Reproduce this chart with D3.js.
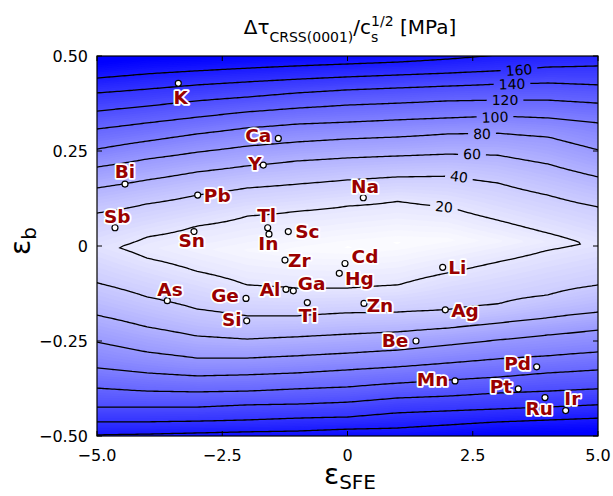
<!DOCTYPE html>
<html><head><meta charset="utf-8">
<script src="https://cdn.jsdelivr.net/npm/d3@7"></script>
<style>body{margin:0;background:#fff} svg{display:block} text{font-family:"DejaVu Sans",sans-serif}</style>
</head><body><svg id="c" width="613" height="496"></svg>
<script>
// ---------- data ----------
const columnsSFE = [-5, -4, -3, -2, -1, 0, 1, 2, 3, 4, 5];
const levels = [20, 40, 60, 80, 100, 120, 140, 160, 180];
// eps_b where each contour level crosses each column (upper branch)
const up20  = [null, 0.024, 0.053, 0.079, 0.092, 0.105, 0.118, 0.103, 0.068, 0.034, null];
const up40  = [0.087, 0.111, 0.134, 0.153, 0.163, 0.174, 0.182, 0.184, 0.166, 0.134, 0.103];
const up60  = [0.153, 0.174, 0.195, 0.211, 0.224, 0.232, 0.237, 0.242, 0.239, 0.216, 0.182];
const up80  = [0.208, 0.229, 0.247, 0.263, 0.274, 0.282, 0.287, 0.295, 0.297, 0.287, 0.253];
const up100 = [0.255, 0.276, 0.295, 0.311, 0.321, 0.326, 0.332, 0.337, 0.342, 0.337, 0.324];
const up120 = [0.308, 0.324, 0.339, 0.353, 0.363, 0.371, 0.376, 0.382, 0.384, 0.384, 0.376];
const up140 = [0.355, 0.368, 0.382, 0.392, 0.403, 0.411, 0.416, 0.421, 0.426, 0.429, 0.424];
const up160 = [0.403, 0.413, 0.424, 0.432, 0.439, 0.445, 0.450, 0.455, 0.461, 0.471, 0.474];
const up180 = [0.442, 0.453, 0.461, 0.468, 0.474, 0.479, 0.484, 0.492, 0.503, 0.511, 0.516];
// lower branch
const low20  = [null, -0.032, -0.067, -0.103, -0.111, -0.111, -0.103, -0.071, -0.042, -0.011, null];
const low40  = [-0.097, -0.134, -0.166, -0.184, -0.184, -0.176, -0.174, -0.168, -0.153, -0.129, -0.103];
const low60  = [-0.182, -0.213, -0.237, -0.245, -0.239, -0.232, -0.226, -0.216, -0.203, -0.189, -0.174];
const low80  = [-0.253, -0.279, -0.295, -0.295, -0.289, -0.282, -0.274, -0.261, -0.247, -0.234, -0.221];
const low100 = [-0.321, -0.334, -0.342, -0.339, -0.334, -0.326, -0.318, -0.308, -0.297, -0.289, -0.279];
const low120 = [-0.374, -0.382, -0.384, -0.382, -0.376, -0.371, -0.361, -0.353, -0.345, -0.334, -0.326];
const low140 = [-0.424, -0.424, -0.424, -0.418, -0.416, -0.411, -0.400, -0.395, -0.387, -0.382, -0.376];
const low160 = [-0.463, -0.463, -0.461, -0.458, -0.453, -0.450, -0.439, -0.434, -0.429, -0.424, -0.418];
const low180 = [-0.497, -0.495, -0.492, -0.489, -0.487, -0.482, -0.479, -0.471, -0.463, -0.458, -0.453];
// valley (minimum) of each column
const centerEb  = [-0.003, -0.005, -0.008, -0.011, -0.009, -0.003, 0.008, 0.016, 0.013, 0.011, 0.005];
const centerVal = [23, 16, 11, 7, 4, 2, 2, 4, 9, 15, 22];

// elements
const elements = ["K","Ca","Y","Bi","Pb","Na","Sb","Tl","Sn","Sc","In","Zr","Cd","Hg","Al","Ga","As","Ge","Ti","Zn","Si","Li","Ag","Be","Pd","Mn","Pt","Ru","Ir"];
const elemSFE = [-3.377,-1.381,-1.681,-4.441,-2.990,0.315,-4.641,-1.593,-3.064,-1.182,-1.567,-1.248,-0.050,-0.164,-1.228,-1.082,-3.597,-2.026,-0.802,0.329,-2.012,1.900,1.952,1.367,3.776,2.146,3.409,3.942,4.355];
const elemEb  = [0.428,0.283,0.213,0.163,0.134,0.127,0.048,0.048,0.038,0.038,0.031,-0.037,-0.046,-0.072,-0.114,-0.118,-0.144,-0.138,-0.149,-0.151,-0.197,-0.056,-0.168,-0.250,-0.318,-0.355,-0.376,-0.399,-0.433];
// annotation anchor (label centre) in data coords
const labelSFE = [-3.33,-1.78,-1.846,-4.441,-2.60,0.35,-4.595,-1.613,-3.11,-0.802,-1.58,-0.962,0.349,0.235,-1.547,-0.715,-3.543,-2.445,-0.782,0.649,-2.311,2.19,2.345,0.948,3.397,1.70,3.064,3.828,4.487];
const labelEb  = [0.391,0.292,0.218,0.196,0.134,0.158,0.077,0.082,0.016,0.038,0.007,-0.039,-0.028,-0.085,-0.114,-0.097,-0.114,-0.129,-0.182,-0.155,-0.193,-0.056,-0.168,-0.247,-0.309,-0.351,-0.370,-0.427,-0.401];

// contour label positions
const clabelLevels = [160, 140, 120, 100, 80, 60, 40, 20];
const clabelSFE = [3.423, 3.283, 3.144, 2.944, 2.685, 2.485, 2.226, 1.926];
const clabelEb  = [0.463, 0.426, 0.384, 0.339, 0.295, 0.242, 0.182, 0.103];

const xTicks = [-5, -2.5, 0, 2.5, 5];
const xTickLabels = ["\u22125.0", "\u22122.5", "0", "2.5", "5.0"];
const yTicks = [0.5, 0.25, 0, -0.25, -0.5];
const yTickLabels = ["0.50", "0.25", "0", "\u22120.25", "\u22120.50"];

// ---------- layout ----------
const L = 97, R = 598, T = 56, B = 436;
const x = d3.scaleLinear([-5, 5], [L, R]);
const y = d3.scaleLinear([-0.5, 0.5], [B, T]);
const color = d3.scaleLinear([0, 200], ["#ffffff", "#0000ff"]).clamp(true);

const svg = d3.select("#c");
const defs = svg.append("defs");
defs.append("clipPath").attr("id", "plotclip").append("rect")
  .attr("x", L).attr("y", T).attr("width", R - L).attr("height", B - T);

// ---------- field from the column profiles ----------
const upArr = [up20, up40, up60, up80, up100, up120, up140, up160, up180];
const lowArr = [low20, low40, low60, low80, low100, low120, low140, low160, low180];
const knots = columnsSFE.map((_, ci) => {
  const ks = [];
  for (let k = levels.length - 1; k >= 0; k--) if (lowArr[k][ci] != null) ks.push([lowArr[k][ci], levels[k]]);
  ks.push([centerEb[ci], centerVal[ci]]);
  for (let k = 0; k < levels.length; k++) if (upArr[k][ci] != null) ks.push([upArr[k][ci], levels[k]]);
  return ks;
});
function prof(ci, e) {
  const ks = knots[ci];
  let i = 0;
  while (i < ks.length - 2 && e > ks[i + 1][0]) i++;
  const [e0, v0] = ks[i], [e1, v1] = ks[i + 1];
  return v0 + (v1 - v0) * (e - e0) / (e1 - e0);
}
function field(s, e) {
  const step = columnsSFE[1] - columnsSFE[0];
  let p = (s - columnsSFE[0]) / step;
  let i = Math.floor(p);
  i = Math.max(0, Math.min(columnsSFE.length - 2, i));
  let t = Math.max(0, Math.min(1, p - i));
  return (1 - t) * prof(i, e) + t * prof(i + 1, e);
}

const gx0 = -5.2, gdx = 0.05, nx = 209;
const gy0 = 0.52, gdy = 0.005, ny = 209;
const values = new Float64Array(nx * ny);
for (let j = 0; j < ny; j++) for (let i = 0; i < nx; i++)
  values[j * nx + i] = field(gx0 + i * gdx, gy0 - j * gdy);

const proj = d3.geoTransform({
  point: function(gx, gy) { this.stream.point(x(gx0 + (gx - 0.5) * gdx), y(gy0 - (gy - 0.5) * gdy)); }
});
const path = d3.geoPath(proj);

// filled background
const plot = svg.append("g").attr("clip-path", "url(#plotclip)");
plot.append("rect").attr("x", L).attr("y", T).attr("width", R - L).attr("height", B - T).attr("fill", color(0));
const fillStep = 2.5;
const fillThr = d3.range(fillStep, 230, fillStep);
plot.append("g").selectAll("path")
  .data(d3.contours().size([nx, ny]).thresholds(fillThr)(values))
  .join("path").attr("d", path)
  .attr("fill", d => color(d.value + fillStep / 2)).attr("stroke", "none");

// contour labels (measure first for the mask)
const cl = svg.append("g").attr("class", "clabels");
function rotAt(px, py) {
  const F = (a, b) => field(x.invert(a), y.invert(b));
  const gxv = (F(px + 1, py) - F(px - 1, py)) / 2;
  const gyv = (F(px, py + 1) - F(px, py - 1)) / 2;
  let ang = Math.atan2(gxv, -gyv) * 180 / Math.PI;
  if (ang > 90) ang -= 180; if (ang < -90) ang += 180;
  return ang;
}
const mask = defs.append("mask").attr("id", "lblmask").attr("maskUnits", "userSpaceOnUse")
  .attr("x", 0).attr("y", 0).attr("width", 613).attr("height", 496);
mask.append("rect").attr("x", 0).attr("y", 0).attr("width", 613).attr("height", 496).attr("fill", "white");
clabelLevels.forEach((lv, k) => {
  const px = x(clabelSFE[k]), py = y(clabelEb[k]);
  const a = rotAt(px, py);
  const t = cl.append("text").attr("transform", `translate(${px},${py}) rotate(${a})`)
    .attr("text-anchor", "middle").attr("dy", "0.36em")
    .attr("font-size", 14).attr("fill", "#000").text(lv);
  const w = t.node().getComputedTextLength();
  mask.append("rect").attr("x", -w / 2 - 5).attr("y", -8).attr("width", w + 10).attr("height", 16)
    .attr("transform", `translate(${px},${py}) rotate(${a})`).attr("fill", "black");
});

// contour lines
plot.append("g").attr("mask", "url(#lblmask)").selectAll("path")
  .data(d3.contours().size([nx, ny]).thresholds(levels)(values))
  .join("path").attr("d", path)
  .attr("fill", "none").attr("stroke", "#000").attr("stroke-width", 1.3);

cl.raise();

// frame and ticks
const ax = svg.append("g");
ax.append("rect").attr("x", L).attr("y", T).attr("width", R - L).attr("height", B - T)
  .attr("fill", "none").attr("stroke", "#000").attr("stroke-width", 1.2);
xTicks.forEach((v, i) => {
  ax.append("line").attr("x1", x(v)).attr("x2", x(v)).attr("y1", B).attr("y2", B - 5).attr("stroke", "#000");
  ax.append("line").attr("x1", x(v)).attr("x2", x(v)).attr("y1", T).attr("y2", T + 5).attr("stroke", "#000");
  ax.append("text").attr("x", x(v)).attr("y", 461).attr("text-anchor", "middle")
    .attr("font-size", 16).text(xTickLabels[i]);
});
yTicks.forEach((v, i) => {
  ax.append("line").attr("x1", L).attr("x2", L + 5).attr("y1", y(v)).attr("y2", y(v)).attr("stroke", "#000");
  ax.append("line").attr("x1", R).attr("x2", R - 5).attr("y1", y(v)).attr("y2", y(v)).attr("stroke", "#000");
  ax.append("text").attr("x", 88).attr("y", y(v)).attr("dy", "0.36em").attr("text-anchor", "end")
    .attr("font-size", 16).text(yTickLabels[i]);
});

// elements
const eg = svg.append("g");
eg.selectAll("circle").data(elements).join("circle")
  .attr("cx", (d, i) => x(elemSFE[i])).attr("cy", (d, i) => y(elemEb[i])).attr("r", 3)
  .attr("fill", "#fff").attr("stroke", "#000").attr("stroke-width", 1.2);
eg.selectAll("text").data(elements).join("text")
  .attr("x", (d, i) => x(labelSFE[i])).attr("y", (d, i) => y(labelEb[i])).attr("dy", "0.36em")
  .attr("text-anchor", "middle").attr("font-size", 18.5).attr("font-weight", "bold")
  .attr("fill", "#9a0000").attr("stroke", "#fff").attr("stroke-width", 3.5)
  .attr("stroke-linejoin", "round").attr("paint-order", "stroke").text(d => d);

// title
const title = svg.append("text").attr("x", 350).attr("y", 34).attr("text-anchor", "middle").attr("font-size", 20);
title.append("tspan").text("\u0394\u03c4");
title.append("tspan").attr("font-size", 14).attr("dy", 8).text("CRSS(0001)");
title.append("tspan").attr("dy", -8).text("/c");
title.append("tspan").attr("font-size", 14).attr("dy", 8).text("s");
title.append("tspan").attr("font-size", 14).attr("dx", -7.3).attr("dy", -16).text("1/2");
title.append("tspan").attr("dy", 8).text(" [MPa]");

// axis labels
const xl = svg.append("text").attr("x", 350).attr("y", 484).attr("text-anchor", "middle").attr("font-size", 28);
xl.append("tspan").text("\u03b5");
xl.append("tspan").attr("font-size", 20).attr("dy", 5).text("SFE");
const yl = svg.append("text").attr("transform", "translate(30,241) rotate(-90)").attr("text-anchor", "middle").attr("font-size", 28);
yl.append("tspan").text("\u03b5");
yl.append("tspan").attr("font-size", 20).attr("dy", 6).text("b");
</script></body></html>
